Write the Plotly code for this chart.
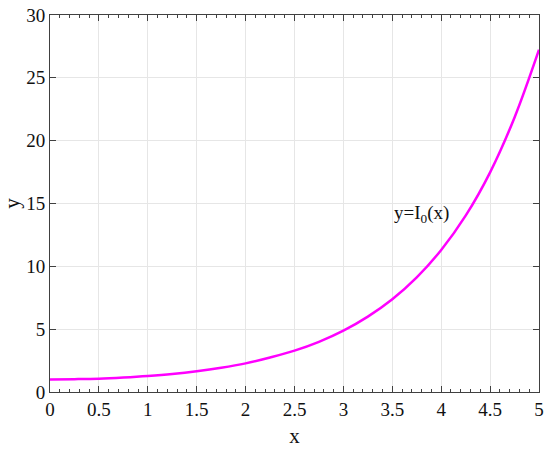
import plotly.graph_objects as go

x_vals = [0, 0.25, 0.5, 0.75, 1.0, 1.25, 1.5, 1.75, 2.0, 2.25, 2.5, 2.75,
          3.0, 3.25, 3.5, 3.75, 4.0, 4.25, 4.5, 4.75, 5.0]
y_vals = [1.00, 1.02, 1.06, 1.15, 1.27, 1.43, 1.65, 1.93, 2.28, 2.75, 3.29, 3.99,
          4.88, 6.00, 7.38, 9.12, 11.30, 14.03, 17.48, 21.85, 27.24]
x_ticks = [0, 0.5, 1, 1.5, 2, 2.5, 3, 3.5, 4, 4.5, 5]
x_tick_labels = ["0", "0.5", "1", "1.5", "2", "2.5", "3", "3.5", "4", "4.5", "5"]
y_ticks = [0, 5, 10, 15, 20, 25, 30]
label_text = "y=I<sub>0</sub>(x)"
label_pos = (3.8, 14.2)

font = "Liberation Serif, Times New Roman, serif"

fig = go.Figure()
fig.add_trace(go.Scatter(x=x_vals, y=y_vals, mode="lines", line=dict(color="#ff00ff", width=2.5, shape="spline"),
                         showlegend=False))
fig.add_annotation(x=label_pos[0], y=label_pos[1], text=label_text, showarrow=False,
                   font=dict(family=font, size=19, color="#111111"))

axis_common = dict(showline=True, linecolor="#404040", linewidth=1, mirror="ticks",
                   ticks="inside", tickcolor="#404040", ticklen=6, tickwidth=1,
                   showgrid=True, gridcolor="#e6e6e6", gridwidth=1, zeroline=False,
                   automargin=False,
                   tickfont=dict(family=font, size=19, color="#111111"))

fig.update_xaxes(range=[0, 5], tickvals=x_ticks, ticktext=x_tick_labels,
                 minor=dict(ticks="inside", dtick=0.1, ticklen=3, tickcolor="#404040", showgrid=False),
                 title=dict(text="x", font=dict(family=font, size=21, color="#111111"), standoff=9),
                 **axis_common)
fig.update_yaxes(range=[0, 30], tickvals=y_ticks,
                 title=dict(text="y", font=dict(family=font, size=21, color="#111111"), standoff=11),
                 **axis_common)

fig.update_layout(width=550, height=451, margin=dict(l=50, r=11, t=15, b=59),
                  plot_bgcolor="white", paper_bgcolor="white")
fig.write_html("out.html", config={"displayModeBar": False},
               post_script="document.body.style.margin='0';document.body.style.overflow='hidden';")
